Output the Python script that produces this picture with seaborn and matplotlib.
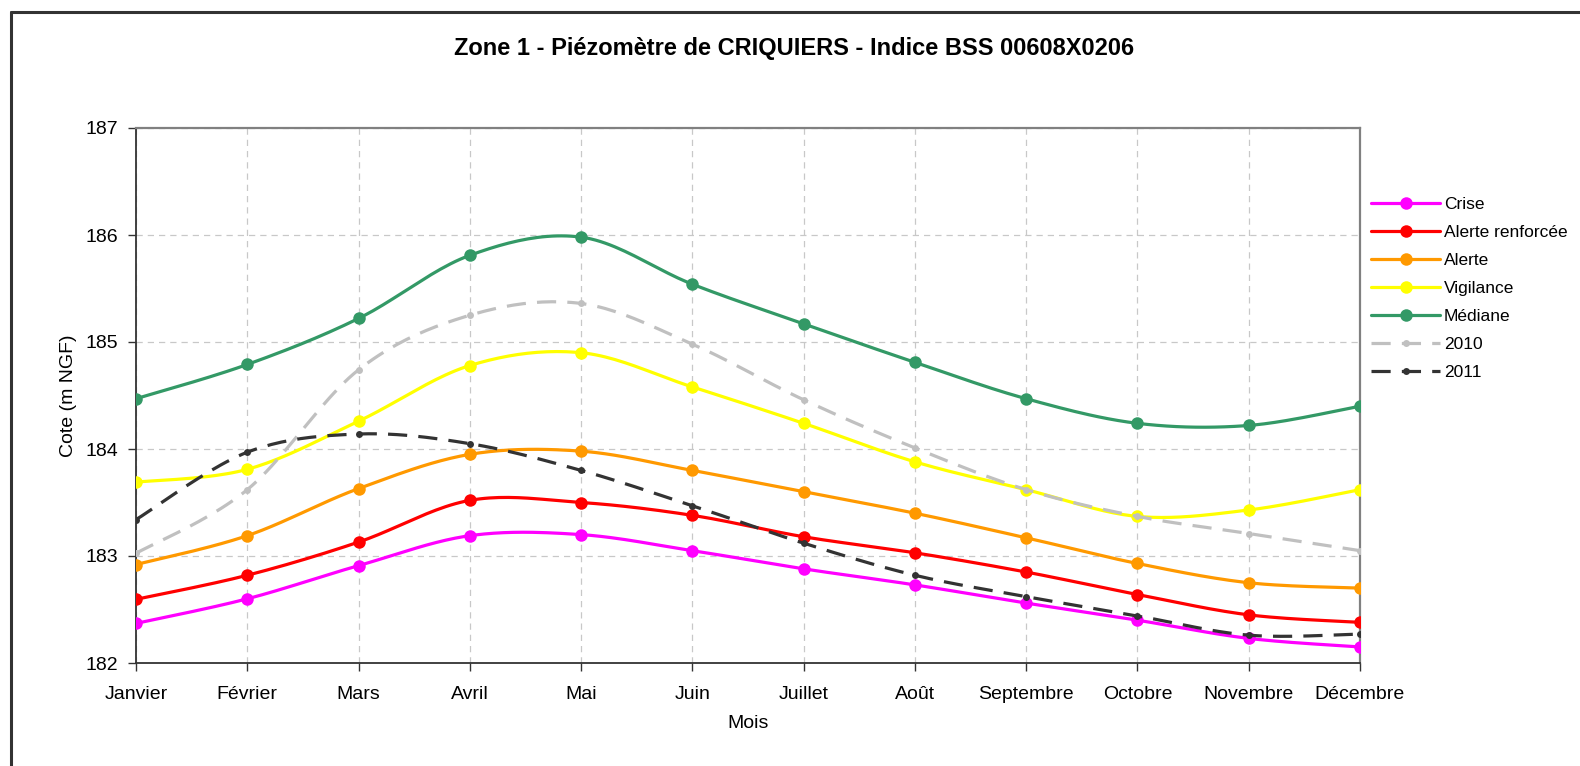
import numpy as np
import pandas as pd
import matplotlib
matplotlib.use('Agg')
import matplotlib.pyplot as plt
from matplotlib.lines import Line2D
import seaborn as sns

# data
mois = ['Janvier', 'Février', 'Mars', 'Avril', 'Mai', 'Juin', 'Juillet',
        'Août', 'Septembre', 'Octobre', 'Novembre', 'Décembre']
crise = [182.37, 182.60, 182.91, 183.19, 183.20, 183.05, 182.88, 182.73, 182.56, 182.40, 182.23, 182.15]
alerte_renf = [182.595, 182.82, 183.13, 183.52, 183.50, 183.38, 183.18, 183.03, 182.85, 182.64, 182.45, 182.38]
alerte = [182.92, 183.19, 183.63, 183.95, 183.98, 183.80, 183.60, 183.40, 183.17, 182.93, 182.75, 182.70]
vigilance = [183.69, 183.81, 184.26, 184.78, 184.90, 184.58, 184.24, 183.88, 183.62, 183.37, 183.43, 183.62]
mediane = [184.47, 184.79, 185.22, 185.81, 185.98, 185.54, 185.17, 184.81, 184.47, 184.24, 184.22, 184.40]
annee_2010 = [183.025, 183.62, 184.74, 185.25, 185.36, 184.98, 184.46, 184.01, 183.62, 183.37, 183.21, 183.05]
annee_2011 = [183.34, 183.97, 184.14, 184.05, 183.80, 183.47, 183.12, 182.82, 182.62, 182.44, 182.26, 182.27]


def lissage(y, n=24):
    # courbe lissee facon Excel (bezier / catmull-rom)
    p = np.column_stack([np.arange(len(y)), np.asarray(y, dtype=float)])
    ext = np.vstack([p[0], p, p[-1]])
    t = np.linspace(0, 1, n)[:, None]
    out = []
    for i in range(len(p) - 1):
        p0, p3 = ext[i + 1], ext[i + 2]
        c1 = p0 + (ext[i + 2] - ext[i]) / 6
        c2 = p3 - (ext[i + 3] - ext[i + 1]) / 6
        seg = (1 - t) ** 3 * p0 + 3 * (1 - t) ** 2 * t * c1 + 3 * (1 - t) * t ** 2 * c2 + t ** 3 * p3
        out.append(seg if i == 0 else seg[1:])
    out = np.vstack(out)
    return pd.DataFrame({'x': out[:, 0], 'y': out[:, 1]})


sns.set_style('white')
plt.rcParams['font.family'] = ['Liberation Sans', 'DejaVu Sans']
plt.rcParams['text.color'] = 'black'
plt.rcParams['axes.labelcolor'] = 'black'
plt.rcParams['xtick.color'] = 'black'
plt.rcParams['ytick.color'] = 'black'

fig = plt.figure(figsize=(15.8, 7.66), dpi=100)
ax = fig.add_axes([136 / 1580, 1 - 663 / 766, (1360 - 136) / 1580, (663 - 128) / 766])

series = [
    ('Crise', crise, '#FF00FF', '-', 9, 2.3),
    ('Alerte renforcée', alerte_renf, '#FF0000', '-', 9, 2.3),
    ('Alerte', alerte, '#FF9900', '-', 9, 2.3),
    ('Vigilance', vigilance, '#FFFF00', '-', 9, 2.3),
    ('Médiane', mediane, '#339966', '-', 9, 2.3),
    ('2010', annee_2010, '#C0C0C0', (0, (6, 3.5)), 5, 2.3),
    ('2011', annee_2011, '#333333', (0, (6, 3.5)), 5, 2.3),
]

handles = []
for i, (nom, vals, col, ls, ms, lw) in enumerate(series):
    courbe = lissage(vals)
    sns.lineplot(data=courbe, x='x', y='y', ax=ax, color=col, linewidth=lw,
                 linestyle=ls, sort=False, estimator=None, zorder=3 + i)
    ax.plot(range(len(vals)), vals, linestyle='none', marker='o', markersize=ms,
            color=col, markeredgewidth=0, zorder=3 + i)
    handles.append(Line2D([], [], color=col, linewidth=lw, linestyle=ls,
                          marker='o', markersize=ms, markeredgewidth=0, label=nom))

ax.set_xlim(0, 11)
ax.set_ylim(182, 187)
ax.set_xticks(range(12))
ax.set_xticklabels(mois)
ax.set_yticks(range(182, 188))
ax.grid(True, color='#C8C8C8', linestyle=(0, (5, 4)), linewidth=0.9)
ax.set_axisbelow(True)
ax.tick_params(axis='both', direction='out', length=6, width=1, color='#333333',
               labelsize=14, pad=7, left=True, bottom=True)
ax.tick_params(axis='x', pad=10.5)
for side in ['top', 'right']:
    ax.spines[side].set_color('#808080')
    ax.spines[side].set_linewidth(1.6)
for side in ['left', 'bottom']:
    ax.spines[side].set_color('#333333')
    ax.spines[side].set_linewidth(1.3)

ax.set_xlabel('Mois', fontsize=14, labelpad=9)
ax.set_ylabel('Cote (m NGF)', fontsize=14, labelpad=6)

fig.text(794 / 1580, 1 - 48 / 766, 'Zone 1 - Piézomètre de CRIQUIERS - Indice BSS 00608X0206',
         ha='center', va='center', fontsize=17, fontweight='bold')

fig.legend(handles=handles, loc='upper left', bbox_to_anchor=(1371 / 1580, 1 - 197 / 766),
           frameon=False, fontsize=12.5, handlelength=4.0, handletextpad=0.2,
           labelspacing=0.74, borderaxespad=0, borderpad=0)

# cadre du graphique
fig.add_artist(Line2D([11 / 1580, 1], [1 - 12 / 766, 1 - 12 / 766], color='#333333', linewidth=2.2))
fig.add_artist(Line2D([11 / 1580, 11 / 1580], [0, 1 - 12 / 766], color='#333333', linewidth=2.2))

fig.savefig('out.png', dpi=100)
